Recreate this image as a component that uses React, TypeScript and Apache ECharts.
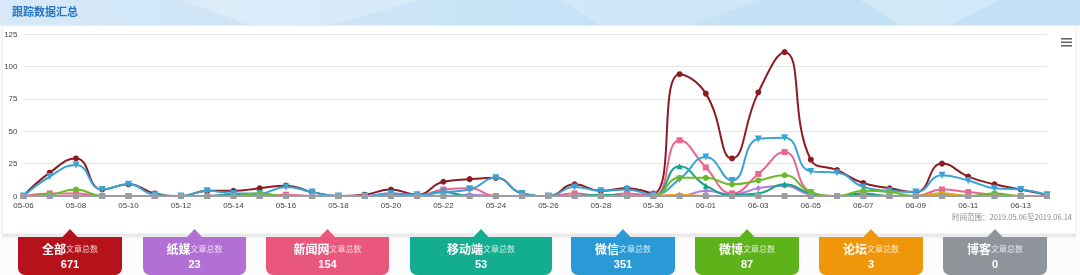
import React, { useEffect, useRef } from "react";
import * as echarts from "echarts";

const dates = [
  "05-06","05-07","05-08","05-09","05-10","05-11","05-12","05-13","05-14","05-15",
  "05-16","05-17","05-18","05-19","05-20","05-21","05-22","05-23","05-24","05-25",
  "05-26","05-27","05-28","05-29","05-30","05-31","06-01","06-02","06-03","06-04",
  "06-05","06-06","06-07","06-08","06-09","06-10","06-11","06-12","06-13","06-14",
];

const allData = [0,18,29,5,9,2,0,4,4,6,8,3,0,1,5,1,11,13,14,2,0,9,4,6,2,94,79,29,80,111,28,20,10,6,3,25,15,9,5,1];
const paperData = [0,0,0,0,0,0,0,0,0,1,0,0,0,0,1,0,0,1,0,0,0,0,0,0,0,0,4,1,6,8,1,0,0,0,0,0,0,0,0,0];
const newsData = [0,2,2,0,0,0,0,0,1,0,1,0,0,0,2,0,5,6,0,0,0,2,0,2,0,43,22,2,17,34,3,0,1,0,0,5,3,1,0,0];
const mobileData = [0,0,0,0,0,0,0,0,1,0,0,0,0,0,0,0,3,0,0,0,0,0,1,0,0,23,8,1,2,9,2,0,2,0,0,1,0,0,0,0];
const wechatData = [0,15,24,5,9,1,0,4,2,2,7,3,0,0,2,1,3,5,14,2,0,7,4,5,1,13,30,12,44,45,19,18,7,4,3,16,12,6,5,1];
const weiboData = [0,1,5,0,0,0,0,0,0,2,0,0,0,0,0,0,0,0,0,0,0,0,0,0,0,14,14,9,12,16,3,0,4,3,0,2,0,2,0,0];
const forumData = [0,0,0,0,0,0,0,0,0,0,0,0,0,0,0,0,0,0,0,0,0,0,0,0,0,1,0,0,0,0,0,0,0,0,0,2,0,0,0,0];
const blogData = [0,0,0,0,0,0,0,0,0,0,0,0,0,0,0,0,0,0,0,0,0,0,0,0,0,0,0,0,0,0,0,0,0,0,0,0,0,0,0,0];

const seriesNames = ["全部", "纸媒", "新闻网", "移动端", "微信", "微博", "论坛", "博客"];
const seriesValues = [allData, paperData, newsData, mobileData, wechatData, weiboData, forumData, blogData];
const lineColors = ["#8e1b22", "#b57be0", "#ea6590", "#16a38b", "#3aa3d6", "#6cba2a", "#f3a21b", "#9a9ea3"];
const symbols = ["circle", "diamond", "rect", "triangle", "path://M0,0 L10,0 L5,9 Z", "circle", "diamond", "rect"];

const cardTotals = [671, 23, 154, 53, 351, 87, 3, 0];
const cardColors = ["#b5121b", "#b26fd4", "#e9587c", "#13ad8f", "#2a9ad6", "#5fb31a", "#f0960b", "#8f949a"];
const cardX = [18, 143, 266, 410, 571, 695, 819, 943];
const cardW = [104, 103, 123, 142, 104, 104, 104, 104];

const titleText = "跟踪数据汇总";
const rangeText = "时间范围：2019.05.06至2019.06.14";

export default function App() {
  const ref = useRef<HTMLDivElement>(null);
  useEffect(() => {
    if (!ref.current) return;
    const chart = echarts.init(ref.current, null, { renderer: "svg" });

    const graphics: any[] = [];
    graphics.push({ type: "rect", z: -10, silent: true, shape: { x: 0, y: 0, width: 1080, height: 275 }, style: { fill: "#fcfcfc" } });
    graphics.push({ type: "rect", z: -9, silent: true, shape: { x: 2, y: 233, width: 1074, height: 6 }, style: { fill: { type: "linear", x: 0, y: 0, x2: 0, y2: 1, colorStops: [{ offset: 0, color: "#d9d9d9" }, { offset: 1, color: "#fcfcfc" }] } } });
    graphics.push({ type: "rect", z: -8, silent: true, shape: { x: 2, y: 0, width: 1074, height: 234 }, style: { fill: "#ffffff", stroke: "#ececec", lineWidth: 1 } });
    graphics.push({ type: "rect", z: -7, silent: true, shape: { x: 0, y: 0, width: 1080, height: 25 }, style: { fill: { type: "linear", x: 0, y: 0, x2: 1, y2: 0, colorStops: [{ offset: 0, color: "#d6e9f8" }, { offset: 0.5, color: "#c7e2f6" }, { offset: 1, color: "#c2dff5" }] } } });
    graphics.push({ type: "polygon", z: -6, silent: true, shape: { points: [[180, 0], [420, 0], [330, 25], [250, 25]] }, style: { fill: "rgba(255,255,255,0.25)" } });
    graphics.push({ type: "polygon", z: -6, silent: true, shape: { points: [[560, 0], [760, 0], [690, 25], [600, 25]] }, style: { fill: "rgba(255,255,255,0.2)" } });
    graphics.push({ type: "polygon", z: -6, silent: true, shape: { points: [[860, 0], [1000, 0], [950, 25], [900, 25]] }, style: { fill: "rgba(255,255,255,0.25)" } });
    graphics.push({ type: "rect", z: -6, silent: true, shape: { x: 0, y: 25, width: 1080, height: 1 }, style: { fill: "#e8eef3" } });
    graphics.push({ type: "text", z: 5, left: 12, top: 5, style: { text: titleText, fill: "#2474c6", font: "bold 11px 'Noto Sans CJK SC', sans-serif" } });
    [38, 41.5, 45].forEach((y) => {
      graphics.push({ type: "rect", z: 5, silent: true, shape: { x: 1061, y, width: 11, height: 1.6 }, style: { fill: "#666666" } });
    });
    graphics.push({ type: "text", z: 5, right: 8, top: 213, style: { text: rangeText, fill: "#8a8a8a", font: "7.5px 'Noto Sans CJK SC', sans-serif", textAlign: "right" } });

    seriesNames.forEach((name, i) => {
      const x = cardX[i];
      const w = cardW[i];
      const cx = x + w / 2;
      graphics.push({ type: "rect", z: 10, silent: true, shape: { x, y: 237, width: w, height: 38, r: [0, 0, 7, 7] }, style: { fill: cardColors[i] } });
      graphics.push({ type: "polygon", z: 10, silent: true, shape: { points: [[cx - 8, 237.5], [cx, 229], [cx + 8, 237.5]] }, style: { fill: cardColors[i] } });
      graphics.push({
        type: "text", z: 11, silent: true, x: cx, y: 248,
        style: {
          text: "{a|" + name + "}{b|文章总数}",
          textAlign: "center", textVerticalAlign: "middle",
          rich: {
            a: { fill: "#ffffff", fontSize: 12, fontWeight: "bold", fontFamily: "'Noto Sans CJK SC', serif" },
            b: { fill: "rgba(255,255,255,0.78)", fontSize: 8, fontFamily: "'Noto Sans CJK SC', sans-serif" },
          },
        },
      });
      graphics.push({
        type: "text", z: 11, silent: true, x: cx, y: 263.5,
        style: { text: String(cardTotals[i]), textAlign: "center", textVerticalAlign: "middle", fill: "#ffffff", font: "bold 11px Arial, 'Liberation Sans', sans-serif" },
      });
    });

    chart.setOption({
      animation: false,
      backgroundColor: "transparent",
      grid: { left: 23.5, right: 33, top: 34, bottom: 79, containLabel: false },
      xAxis: {
        type: "category",
        boundaryGap: false,
        data: dates,
        axisLine: { lineStyle: { color: "#ccd6eb" } },
        axisTick: { show: false },
        axisLabel: { interval: 1, fontSize: 8, color: "#444444", margin: 5, fontFamily: "'Liberation Sans', Arial, sans-serif" },
        splitLine: { show: false },
      },
      yAxis: {
        type: "value",
        min: 0,
        max: 125,
        interval: 25,
        axisLine: { show: false },
        axisTick: { show: false },
        axisLabel: { fontSize: 8, color: "#444444", margin: 6, fontFamily: "'Liberation Sans', Arial, sans-serif" },
        splitLine: { lineStyle: { color: "#e6e6e6" } },
      },
      series: seriesNames.map((name, i) => ({
        name,
        type: "line",
        data: seriesValues[i],
        smooth: 0.5,
        symbol: symbols[i],
        symbolSize: i === 4 ? 7 : 6,
        showSymbol: true,
        lineStyle: { width: 2, color: lineColors[i] },
        itemStyle: { color: lineColors[i] },
        z: 2 + i,
      })),
      graphic: graphics,
    });
    return () => chart.dispose();
  }, []);
  return <div ref={ref} style={{ position: "fixed", left: 0, top: 0, width: 1080, height: 275 }} />;
}
